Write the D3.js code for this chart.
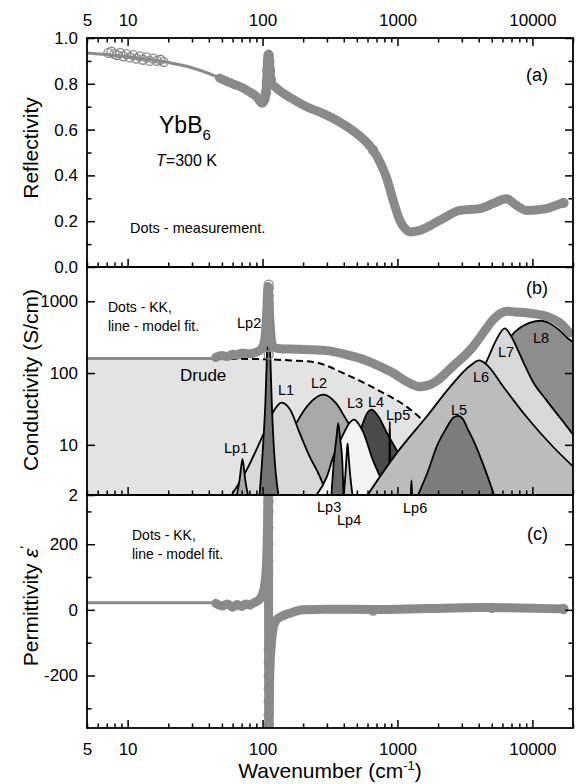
<!DOCTYPE html>
<html lang="en">
<head>
<meta charset="UTF-8">
<title>YbB6 optical spectra</title>
<script src="https://d3js.org/d3.v7.min.js"></script>
<style>
    body { margin: 0; background: #fff; }
    svg { display: block; font-family: "Liberation Sans", Arial, sans-serif; }
    .axis path.domain { display: none; }
    .axis line { stroke: #000; stroke-width: 1.5; }
    .axis text { font-size: 17px; fill: #000; font-family: "Liberation Sans", Arial, sans-serif; }
    .frame { fill: none; stroke: #000; stroke-width: 1.8; }
    .band { fill: none; stroke: #8a8a8a; stroke-width: 9; stroke-linejoin: round; stroke-linecap: round; }
    .fit { fill: none; stroke: #8a8a8a; stroke-width: 3; }
    .dot { fill: none; stroke: #8a8a8a; stroke-width: 1.3; }
    .peak { stroke: none; }
    .outline { fill: none; stroke: #000; stroke-width: 1.8; stroke-linejoin: round; }
</style>
</head>
<body>
<svg width="576" height="784"></svg>
<script>
// ---- tick values ----
var xMajorTicks = [10, 100, 1000, 10000];
var xLabelTicks = [5, 10, 100, 1000, 10000];
var reflTicks = [0, 0.2, 0.4, 0.6, 0.8, 1.0];
var reflMinorTicks = [0.1, 0.3, 0.5, 0.7, 0.9];
var condTicks = [2, 10, 100, 1000];
var permTicks = [-200, 0, 200];
var permMinorTicks = [-300, -100, 100, 300];

// ---- (a) reflectivity: [wavenumber, R] ----
var reflFit = [[5,0.935],[7,0.928],[10,0.918],[15,0.905],[20,0.893],[30,0.87],[40,0.845],[50,0.822]];
var reflMeas = [[48,0.825],[55,0.81],[60,0.80],[70,0.785],[80,0.765],[90,0.745],[99,0.715],[104,0.73],
    [107,0.80],[109,0.90],[110.5,0.93],[112,0.91],[114,0.85],[117,0.80],[125,0.785],[134,0.77],[160,0.74],
    [212,0.70],[282,0.67],[374,0.633],[498,0.583],[600,0.54],[660,0.51],[740,0.46],[830,0.39],[930,0.29],
    [1041,0.204],[1150,0.165],[1235,0.153],[1464,0.16],[2060,0.204],[2900,0.247],[4070,0.255],[5110,0.277],
    [6430,0.298],[7620,0.269],[9040,0.247],[12700,0.255],[15950,0.275],[17000,0.28]];
var reflDotsFar = [[7.2,0.935],[7.6,0.94],[8.0,0.93],[8.4,0.925],[8.8,0.935],[9.3,0.92],[9.8,0.93],[10.4,0.915],
    [11,0.925],[11.6,0.91],[12.3,0.92],[13,0.905],[13.8,0.915],[14.6,0.9],[15.5,0.91],[16.5,0.9],[17.5,0.905],[18.5,0.895]];
var reflDotsPeak = [[106,0.76],[107.5,0.81],[108.5,0.86],[109.5,0.90],[111,0.925],[112.5,0.90],[113.5,0.86],[115,0.82],
    [660,0.51],[17000,0.28]];

// ---- (b) conductivity: [wavenumber, sigma] ----
var condFit = [[5,160],[20,160],[48,160]];
var condMeas = [[45,165],[50,175],[55,170],[60,182],[65,178],[70,190],[80,186],[90,196],[98,215],[104,300],
    [107,600],[110,1600],[113,600],[116,300],[120,230],[134,218],[180,215],[237,211],[300,205],[420,180],
    [530,160],[660,136],[800,115],[930,100],[1168,76],[1464,64.5],[1836,72],[2583,125],[3638,234],[4400,380],
    [5110,553],[5800,680],[6430,728],[7500,710],[9040,690],[12700,620],[15950,500],[18900,360]];
var condDotsPeak = [[111,180],[111,230],[111,300],[111,380],[111,480],[111,600],[111,760],[111,950],[111,1200],[111,1500],[111,1700]];

var drude = [[5,158],[50,158],[100,156],[160,150],[237,143],[420,95],[740,56],[1168,34],[1641,20],[2500,10],[4000,4.5],[6000,2]];
var Lp1 = [[64.5,2],[67.5,3.2],[69.5,5],[71,6.3],[72.5,5],[74.5,3.2],[78,2]];
var Lp2 = [[95,2],[101,10],[105,40],[107.5,150],[109.5,450],[111,1000],[112.5,450],[114.5,150],[117,40],[121,10],[131,2]];
var Lp3 = [[324,2],[338,6],[352,12],[364,20],[376,12],[390,6],[398,2]];
var Lp4 = [[400,2],[412,4],[421,7.5],[427,10.5],[433,7.5],[445,4],[464,2]];
var Lp5 = [[862,2],[872,8],[877,21],[882,8],[892,2]];
var Lp6 = [[1255,2],[1270,3.2],[1285,2]];
var L1 = [[59,2],[76,4.4],[101,13.8],[123,31],[138,38.8],[160,31],[189,14.4],[224,6.8],[266,3.6],[300,2]];
var L2 = [[99,2],[134,6],[178,20],[224,38],[282,50],[350,38],[420,22],[555,9.4],[700,4],[790,2]];
var L3 = [[251,2],[300,3.6],[334,6.8],[396,14],[440,20],[477,22.4],[520,19],[557,15],[660,6],[762,3.2],[830,2]];
var L4 = [[440,2],[490,6],[526,14],[580,25],[643,31],[720,25],[830,15],[984,8.5],[1100,6],[1300,3],[1450,2]];
var L5 = [[1420,2],[1700,4.5],[1950,9.4],[2300,17],[2600,24],[2820,25.3],[3050,23],[3300,17],[3640,11.7],[4570,4],[5200,2]];
var L6 = [[600,2],[984,7.6],[1641,24.6],[2583,72],[3430,125],[4035,150],[4600,130],[6070,65],[9040,24.6],[14220,9.4],[20000,5]];
var L7 = [[3300,40],[4000,100],[4570,145],[5300,270],[6240,420],[7000,320],[7630,230],[8600,140],[10120,75],[12700,42],[16000,24],[20000,14]];
var L8 = [[5500,100],[7000,330],[8000,420],[9500,500],[11670,535],[13500,490],[16000,390],[18900,290],[20000,270]];

// ---- (c) permittivity: [wavenumber, eps'] ----
var permFit = [[5,22],[20,22],[48,22]];
var permMeas = [[45,20],[50,12],[55,18],[60,8],[65,16],[70,10],[75,18],[80,14],[85,20],[90,25],[95,32],[100,48],
    [104,80],[107,140],[109,260],[110.5,420],[111.2,-420],[113,-200],[116,-110],[120,-55],[126,-32],[134,-23],
    [160,-10],[200,0],[300,2],[660,1],[1640,4],[4070,7],[8000,6],[17000,3]];
var permDotsPeak = [[110.2,110],[110.4,150],[110.5,200],[110.6,250],[110.7,300],[110.8,330],
    [111.4,-120],[111.3,-160],[111.3,-200],[111.2,-240],[111.2,-280],[111.1,-320],[111.1,-352],
    [660,-2],[5000,6],[17000,3]];

var svg = d3.select("svg"),
    left = 87, right = 573,
    topA = 38, botA = 267, botB = 495, botC = 728;

var x = d3.scaleLog().domain([5, 20000]).range([left, right]);
var yA = d3.scaleLinear().domain([0, 1]).range([botA, topA]);
var yB = d3.scaleLog().domain([2, 3000]).range([botB, botA]);
var yC = d3.scaleLinear().domain([-360, 350]).range([botC, botB]);

var xMinorTicks = x.ticks().filter(function (d) { return xMajorTicks.indexOf(d) < 0; });

function clip(id, y0, y1) {
    svg.append("clipPath").attr("id", id).append("rect")
        .attr("x", left).attr("y", y0).attr("width", right - left).attr("height", y1 - y0);
}
clip("clipA", topA, botA);
clip("clipB", botA, botB);
clip("clipC", botB, botC);

function line(y) {
    return d3.line().x(function (d) { return x(d[0]); }).y(function (d) { return y(d[1]); }).curve(d3.curveMonotoneX);
}
function area(y) {
    return d3.area().x(function (d) { return x(d[0]); }).y0(y.range()[0]).y1(function (d) { return y(d[1]); }).curve(d3.curveMonotoneX);
}
function dots(g, data, y) {
    g.selectAll(null).data(data).enter().append("circle")
        .attr("class", "dot").attr("r", 4.5)
        .attr("cx", function (d) { return x(d[0]); })
        .attr("cy", function (d) { return y(d[1]); });
}

// ---- panel (a) ----
var gA = svg.append("g").attr("clip-path", "url(#clipA)");
gA.append("path").attr("class", "fit").attr("d", line(yA)(reflFit));
gA.append("path").attr("class", "band").attr("d", line(yA)(reflMeas));
dots(gA, reflDotsFar, yA);
dots(gA, reflDotsPeak, yA);

// ---- panel (b) ----
var gB = svg.append("g").attr("clip-path", "url(#clipB)");
gB.append("path").attr("fill", "#e3e3e3").attr("d", area(yB)(drude));
gB.append("path").attr("fill", "none").attr("stroke", "#000").attr("stroke-width", 2)
    .attr("stroke-dasharray", "7,4").attr("d", line(yB)(drude));

var peaks = [
    {data: L2, fill: "#a8a8a8"},
    {data: L1, fill: "#d8d8d8"},
    {data: Lp1, fill: "#a9a9a9"},
    {data: Lp2, fill: "#747474"},
    {data: L4, fill: "#4a4a4a"},
    {data: L3, fill: "#f4f4f4"},
    {data: Lp3, fill: "#6b6b6b"},
    {data: Lp4, fill: "#c6c6c6"},
    {data: Lp5, fill: "#333333"},
    {data: L8, fill: "#8d8d8d"},
    {data: L7, fill: "#d8d8d8"},
    {data: L6, fill: "#bcbcbc"},
    {data: L5, fill: "#7c7c7c"},
    {data: Lp6, fill: "#333333"}
];
peaks.forEach(function (p) {
    gB.append("path").attr("class", "peak").attr("fill", p.fill).attr("d", area(yB)(p.data));
    gB.append("path").attr("class", "outline").attr("d", line(yB)(p.data));
});
gB.append("path").attr("class", "fit").attr("d", line(yB)(condFit));
gB.append("path").attr("class", "band").attr("d", line(yB)(condMeas));
dots(gB, condDotsPeak, yB);

// ---- panel (c) ----
var gC = svg.append("g").attr("clip-path", "url(#clipC)");
gC.append("path").attr("class", "fit").attr("d", line(yC)(permFit));
gC.append("path").attr("class", "band").attr("d", line(yC)(permMeas));
dots(gC, permDotsPeak, yC);

// ---- frames ----
[[topA, botA], [botA, botB], [botB, botC]].forEach(function (r) {
    svg.append("rect").attr("class", "frame")
        .attr("x", left).attr("y", r[0]).attr("width", right - left).attr("height", r[1] - r[0]);
});

// ---- axes ----
function put(axis, tx, ty) {
    svg.append("g").attr("class", "axis").attr("transform", "translate(" + tx + "," + ty + ")").call(axis);
}
var none = function () { return ""; };
// x: top of (a)
put(d3.axisTop(x).tickValues(xMajorTicks).tickSize(-8).tickFormat(none), 0, topA);
put(d3.axisTop(x).tickValues(xMinorTicks).tickSize(-4.5).tickFormat(none), 0, topA);
put(d3.axisTop(x).tickValues(xLabelTicks).tickSize(0).tickPadding(12).tickFormat(d3.format("d")), 0, topA);
// x: bottom of each panel
[botA, botB, botC].forEach(function (yy) {
    put(d3.axisBottom(x).tickValues(xMajorTicks).tickSize(-8).tickFormat(none), 0, yy);
    put(d3.axisBottom(x).tickValues(xMinorTicks).tickSize(-4.5).tickFormat(none), 0, yy);
});
put(d3.axisBottom(x).tickValues(xLabelTicks).tickSize(0).tickPadding(15).tickFormat(d3.format("d")), 0, botC);

// y (a)
put(d3.axisLeft(yA).tickValues(reflTicks).tickSize(-8).tickPadding(9).tickFormat(d3.format(".1f")), left, 0);
put(d3.axisLeft(yA).tickValues(reflMinorTicks).tickSize(-4.5).tickFormat(none), left, 0);
put(d3.axisRight(yA).tickValues(reflTicks).tickSize(-8).tickFormat(none), right, 0);
put(d3.axisRight(yA).tickValues(reflMinorTicks).tickSize(-4.5).tickFormat(none), right, 0);
// y (b)
put(d3.axisLeft(yB).tickValues(condTicks).tickSize(-8).tickPadding(9).tickFormat(d3.format("d")), left, 0);
put(d3.axisRight(yB).tickValues(condTicks.slice(1)).tickSize(-8).tickFormat(none), right, 0);
// y (c)
put(d3.axisLeft(yC).tickValues(permTicks).tickSize(-8).tickPadding(9).tickFormat(function (d) { return String(d); }), left, 0);
put(d3.axisLeft(yC).tickValues(permMinorTicks).tickSize(-4.5).tickFormat(none), left, 0);
put(d3.axisRight(yC).tickValues(permTicks).tickSize(-8).tickFormat(none), right, 0);
put(d3.axisRight(yC).tickValues(permMinorTicks).tickSize(-4.5).tickFormat(none), right, 0);

// ---- text ----
function text(tx, ty, str, size, anchor) {
    return svg.append("text").attr("x", tx).attr("y", ty).attr("font-size", size)
        .attr("text-anchor", anchor || "start").text(str);
}
// axis titles
svg.append("text").attr("transform", "translate(38,148) rotate(-90)").attr("text-anchor", "middle")
    .attr("font-size", 21).text("Reflectivity");
svg.append("text").attr("transform", "translate(38,380) rotate(-90)").attr("text-anchor", "middle")
    .attr("font-size", 21).text("Conductivity (S/cm)");
var pt = svg.append("text").attr("transform", "translate(38,606) rotate(-90)").attr("text-anchor", "middle")
    .attr("font-size", 21);
pt.append("tspan").text("Permittivity ");
pt.append("tspan").attr("font-style", "italic").text("\u03b5");
pt.append("tspan").attr("dy", -8).attr("font-size", 14).text("'");
var xt = svg.append("text").attr("x", 330).attr("y", 778).attr("text-anchor", "middle").attr("font-size", 21);
xt.append("tspan").text("Wavenumber (cm");
xt.append("tspan").attr("dy", -8).attr("font-size", 13).text("-1");
xt.append("tspan").attr("dy", 8).text(")");

// panel letters
text(548, 81, "(a)", 18, "end");
text(548, 294, "(b)", 18, "end");
text(548, 540, "(c)", 18, "end");

// panel (a) notes
var yb = text(159, 133, "YbB", 23);
yb.append("tspan").attr("dy", 7).attr("font-size", 15).text("6");
var tt = text(156, 166, "", 16);
tt.append("tspan").attr("font-style", "italic").text("T");
tt.append("tspan").text("=300 K");
text(130, 233, "Dots - measurement.", 14.5);

// panel (b) notes
text(108, 312, "Dots - KK,", 14);
text(108, 331, "line - model fit.", 14);
text(180, 381, "Drude", 17);
var peakLabels = [
    ["Lp2", 237, 328], ["L1", 278, 395], ["Lp1", 224, 453], ["L2", 311, 388], ["L3", 347, 408],
    ["L4", 368, 407], ["Lp5", 386, 420], ["L5", 451, 415], ["L6", 473, 382], ["L7", 498, 357],
    ["L8", 533, 343], ["Lp3", 317, 512], ["Lp4", 337, 525], ["Lp6", 403, 513]
];
peakLabels.forEach(function (l) { text(l[1], l[2], l[0], 14.5); });

// panel (c) notes
text(132, 540, "Dots - KK,", 14);
text(132, 559, "line - model fit.", 14);
</script>
</body>
</html>
